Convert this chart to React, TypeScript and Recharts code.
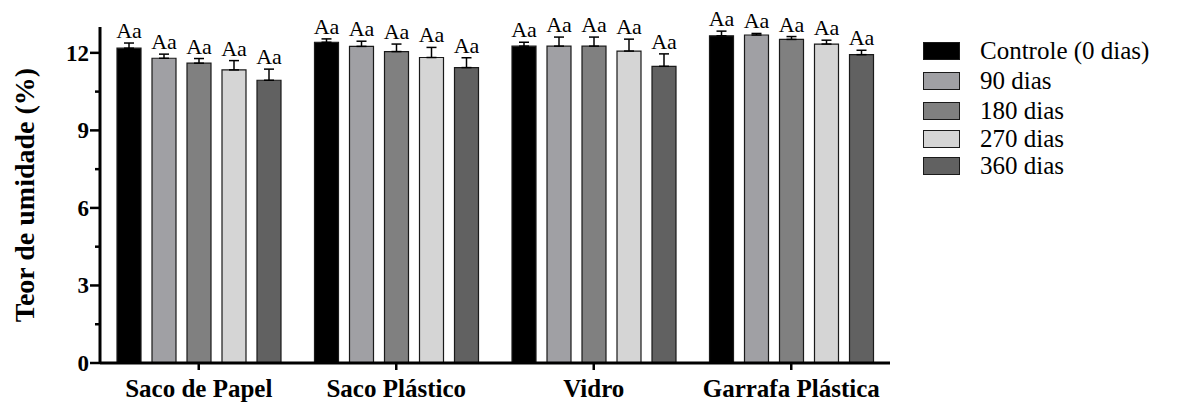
import { BarChart, Bar, XAxis, YAxis, ErrorBar, LabelList, Label } from "recharts";

const categories = ["Saco de Papel", "Saco Plástico", "Vidro", "Garrafa Plástica"];

const controle = [12.18, 12.41, 12.26, 12.66];
const dias90 = [11.79, 12.25, 12.26, 12.69];
const dias180 = [11.6, 12.05, 12.26, 12.52];
const dias270 = [11.34, 11.82, 12.07, 12.34];
const dias360 = [10.94, 11.43, 11.48, 11.93];

const controleErr = [0.2, 0.13, 0.15, 0.18];
const dias90Err = [0.16, 0.2, 0.35, 0.06];
const dias180Err = [0.18, 0.29, 0.35, 0.11];
const dias270Err = [0.36, 0.39, 0.46, 0.15];
const dias360Err = [0.43, 0.38, 0.48, 0.17];

const letters = ["Aa", "Aa", "Aa", "Aa"];

const yTicks = [0, 1.5, 3, 4.5, 6, 7.5, 9, 10.5, 12];

const FONT = '"Liberation Serif", "Times New Roman", serif';

const series = [
  { key: "controle", name: "Controle (0 dias)", values: controle, err: controleErr, fill: "#000000" },
  { key: "d90", name: "90 dias", values: dias90, err: dias90Err, fill: "#a0a0a4" },
  { key: "d180", name: "180 dias", values: dias180, err: dias180Err, fill: "#808080" },
  { key: "d270", name: "270 dias", values: dias270, err: dias270Err, fill: "#d5d5d5" },
  { key: "d360", name: "360 dias", values: dias360, err: dias360Err, fill: "#616161" },
];

// legend rows in the original are not evenly spaced
const legendRowTops = [42, 72, 102, 130, 157];

const data = categories.map((name, i) => {
  const row: Record<string, any> = { name };
  series.forEach((s) => {
    row[s.key] = s.values[i];
    row[s.key + "Err"] = [0, s.err[i]];
  });
  return row;
});

const YTick = (props: any) => {
  const { x, y, payload } = props;
  const major = payload.value % 3 === 0;
  return (
    <g>
      <line x1={x - (major ? 10 : 5)} x2={x} y1={y} y2={y} stroke="#000" strokeWidth={2.5} />
      {major && (
        <text x={x - 11} y={y} dy={8} textAnchor="end" fontFamily={FONT} fontWeight="bold" fontSize={23} fill="#000">
          {payload.value}
        </text>
      )}
    </g>
  );
};

const YTitle = (props: any) => {
  const vb = props.viewBox || {};
  const cx = (vb.x ?? 0) + 24;
  const cy = (vb.y ?? 0) + (vb.height ?? 0) / 2;
  return (
    <text
      x={cx}
      y={cy}
      transform={`rotate(-90, ${cx}, ${cy})`}
      textAnchor="middle"
      dominantBaseline="central"
      fontFamily={FONT}
      fontWeight="bold"
      fontSize={28}
      fill="#000"
    >
      Teor de umidade (%)
    </text>
  );
};

const makeLetter = (err: number[]) => (props: any) => {
  const { x, y, width, height, value, index } = props;
  const perUnit = height / value;
  const top = y - err[index] * perUnit;
  return (
    <text x={x + width / 2} y={top - 5} textAnchor="middle" fontFamily={FONT} fontSize={22} fill="#000">
      {letters[index]}
    </text>
  );
};

export default function App() {
  return (
    <div style={{ position: "absolute", left: 0, top: 0, width: 1178, height: 403, background: "#fff" }}>
      <BarChart
        width={1178}
        height={403}
        data={data}
        margin={{ top: 27, right: 288, bottom: 0, left: 0 }}
        barCategoryGap={17}
        barGap={11}
      >
        <XAxis
          dataKey="name"
          height={40}
          axisLine={{ stroke: "#000", strokeWidth: 3 }}
          tickLine={{ stroke: "#000", strokeWidth: 2.5 }}
          tickSize={7}
          tickMargin={9}
          tick={{ fontFamily: FONT, fontWeight: "bold", fontSize: 25, fill: "#000" }}
        />
        <YAxis
          width={100}
          domain={[0, 13]}
          ticks={yTicks}
          interval={0}
          axisLine={{ stroke: "#000", strokeWidth: 3 }}
          tickLine={false}
          tickSize={0}
          tickMargin={0}
          tick={<YTick />}
        >
          <Label content={<YTitle />} />
        </YAxis>
        {series.map((s) => (
          <Bar
            key={s.key}
            dataKey={s.key}
            name={s.name}
            fill={s.fill}
            stroke="#1a1a1a"
            strokeWidth={1.2}
            isAnimationActive={false}
          >
            <ErrorBar dataKey={s.key + "Err"} width={5} stroke="#000" strokeWidth={1.5} direction="y" />
            <LabelList dataKey={s.key} content={makeLetter(s.err)} />
          </Bar>
        ))}
      </BarChart>
      {series.map((s, i) => (
        <div
          key={s.key}
          style={{
            position: "absolute",
            left: 923,
            top: legendRowTops[i],
            display: "flex",
            alignItems: "center",
            height: 18,
            fontFamily: FONT,
            fontSize: 25,
            color: "#000",
            whiteSpace: "nowrap",
          }}
        >
          <div
            style={{
              width: 37,
              height: 18,
              background: s.fill,
              border: "1px solid #1a1a1a",
              boxSizing: "border-box",
              marginRight: 20,
            }}
          />
          <span style={{ lineHeight: "18px" }}>{s.name}</span>
        </div>
      ))}
    </div>
  );
}
